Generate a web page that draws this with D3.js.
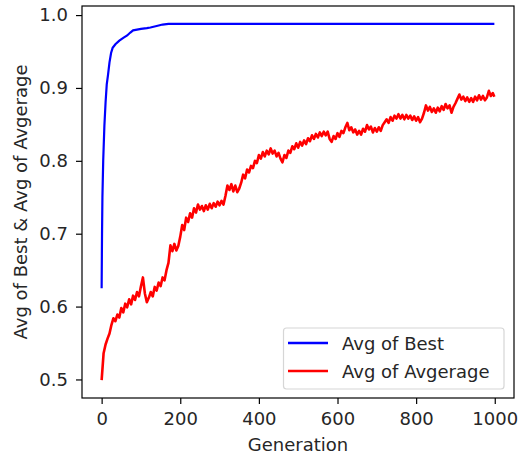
<!DOCTYPE html>
<html>
<head>
<meta charset="utf-8">
<script src="https://cdn.jsdelivr.net/npm/d3@7"></script>
<style>
body { margin: 0; background: #fff; }
text { font-family: "DejaVu Sans", sans-serif; fill: #262626; }
</style>
</head>
<body>
<svg id="chart" width="523" height="462"></svg>
<script>
// avg of best - sampled where it moves, flat afterwards
var bestGen = [0, 1, 2, 4, 7, 10, 13, 16, 20, 24, 28, 35, 45, 56, 65, 73, 80, 90, 100, 115, 124, 140, 155, 170, 200, 999]
var bestVal = [0.625, 0.70, 0.75, 0.80, 0.848, 0.88, 0.905, 0.917, 0.935, 0.948, 0.955, 0.960, 0.965, 0.969, 0.972, 0.976, 0.979, 0.980, 0.981, 0.982, 0.983, 0.985, 0.987, 0.9878, 0.988, 0.988]

// avg of average, every 5 generations (last one is 999)
var avgVal = [
	0.499, 0.536, 0.548, 0.556, 0.563, 0.575, 0.584, 0.580, 0.589, 0.585,
	0.598, 0.592, 0.604, 0.599, 0.610, 0.603, 0.615, 0.609, 0.620, 0.614,
	0.628, 0.640, 0.618, 0.606, 0.612, 0.620, 0.614, 0.627, 0.622, 0.633,
	0.628, 0.640, 0.636, 0.650, 0.660, 0.684, 0.676, 0.686, 0.677, 0.683,
	0.696, 0.712, 0.705, 0.722, 0.716, 0.728, 0.722, 0.735, 0.729, 0.740,
	0.733, 0.738, 0.731, 0.739, 0.733, 0.741, 0.735, 0.742, 0.737, 0.744,
	0.739, 0.745, 0.740, 0.752, 0.766, 0.760, 0.768, 0.758, 0.766, 0.757,
	0.762, 0.770, 0.781, 0.776, 0.788, 0.784, 0.793, 0.790, 0.800, 0.797,
	0.808, 0.803, 0.812, 0.806, 0.814, 0.809, 0.817, 0.810, 0.814, 0.806,
	0.811, 0.803, 0.798, 0.808, 0.804, 0.814, 0.811, 0.820, 0.816, 0.824,
	0.818, 0.826, 0.821, 0.828, 0.823, 0.831, 0.827, 0.835, 0.830, 0.837,
	0.832, 0.839, 0.834, 0.840, 0.835, 0.840, 0.830, 0.826, 0.834, 0.830,
	0.838, 0.833, 0.841, 0.838, 0.846, 0.852, 0.842, 0.846, 0.839, 0.843,
	0.836, 0.841, 0.836, 0.844, 0.840, 0.849, 0.843, 0.847, 0.839, 0.845,
	0.840, 0.846, 0.841, 0.849, 0.853, 0.857, 0.852, 0.860, 0.855, 0.862,
	0.858, 0.864, 0.858, 0.863, 0.857, 0.863, 0.858, 0.862, 0.856, 0.861,
	0.855, 0.860, 0.853, 0.858, 0.866, 0.876, 0.869, 0.874, 0.867, 0.872,
	0.866, 0.873, 0.868, 0.875, 0.870, 0.878, 0.872, 0.876, 0.866, 0.874,
	0.879, 0.885, 0.891, 0.884, 0.888, 0.882, 0.887, 0.881, 0.886, 0.881,
	0.888, 0.883, 0.890, 0.884, 0.889, 0.883, 0.887, 0.896, 0.889, 0.893,
	0.888
]
var avgGen = avgVal.map(function(d, i) { return Math.min(i * 5, 999); })

var xTicks = [0, 200, 400, 600, 800, 1000]
var yTicks = [0.5, 0.6, 0.7, 0.8, 0.9, 1.0]
var labels = ["Avg of Best", "Avg of Avgerage"]
var colors = ["#0000ff", "#ff0000"]

// note: "top" is taken by window.top, so plot box gets its own names
var svg = d3.select("#chart"),
	pl = 82, pr = 514, pt = 6, pb = 398,
	fs = 18

// matplotlib style 5% margins
var xmin = 0, xmax = 999
var ymin = d3.min(avgVal.concat(bestVal)), ymax = d3.max(avgVal.concat(bestVal))
var xm = (xmax - xmin) * 0.05, ym = (ymax - ymin) * 0.05

var x = d3.scaleLinear().domain([xmin - xm, xmax + xm]).range([pl, pr])
var y = d3.scaleLinear().domain([ymin - ym, ymax + ym]).range([pb, pt])

svg.append("clipPath").attr("id", "clip")
	.append("rect").attr("x", pl).attr("y", pt).attr("width", pr - pl).attr("height", pb - pt)

var line = d3.line()
	.x(function(d) { return x(d[0]); })
	.y(function(d) { return y(d[1]); })

var plot = svg.append("g").attr("clip-path", "url(#clip)")
plot.append("path")
	.datum(bestGen.map(function(g, i) { return [g, bestVal[i]]; }))
	.attr("d", line)
	.attr("fill", "none").attr("stroke", colors[0]).attr("stroke-width", 2.2)
plot.append("path")
	.datum(avgGen.map(function(g, i) { return [g, avgVal[i]]; }))
	.attr("d", line)
	.attr("fill", "none").attr("stroke", colors[1]).attr("stroke-width", 2.6)
	.attr("stroke-linejoin", "round")

// axes
var xAxis = svg.append("g").attr("transform", "translate(0," + pb + ")")
	.call(d3.axisBottom(x).tickValues(xTicks).tickSize(6).tickPadding(8).tickFormat(d3.format("d")))
var yAxis = svg.append("g").attr("transform", "translate(" + pl + ",0)")
	.call(d3.axisLeft(y).tickValues(yTicks).tickSize(6).tickPadding(8).tickFormat(d3.format(".1f")))

;[xAxis, yAxis].forEach(function(a) {
	a.select(".domain").remove()
	a.selectAll(".tick line").attr("stroke", "#000").attr("stroke-width", 1.2)
	a.selectAll(".tick text").attr("font-size", fs).attr("font-family", "DejaVu Sans").style("fill", "#262626")
})

svg.append("rect")
	.attr("x", pl).attr("y", pt).attr("width", pr - pl).attr("height", pb - pt)
	.attr("fill", "none").attr("stroke", "#000").attr("stroke-width", 1.2)

svg.append("text")
	.attr("x", (pl + pr) / 2).attr("y", 451)
	.attr("text-anchor", "middle").attr("font-size", fs)
	.text("Generation")

svg.append("text")
	.attr("transform", "translate(26.5," + (pt + pb) / 2 + ") rotate(-90)")
	.attr("text-anchor", "middle").attr("font-size", fs)
	.text("Avg of Best & Avg of Avgerage")

// legend
var lg = svg.append("g")
lg.append("rect")
	.attr("x", 283.5).attr("y", 328).attr("width", 220.5).attr("height", 61).attr("rx", 3)
	.attr("fill", "#fff").attr("fill-opacity", 0.8).attr("stroke", "#d6d6d6").attr("stroke-width", 1.2)
labels.forEach(function(l, i) {
	var ly = 343 + i * 28
	lg.append("line").attr("x1", 288).attr("x2", 328).attr("y1", ly).attr("y2", ly)
		.attr("stroke", colors[i]).attr("stroke-width", 2.4)
	lg.append("text").attr("x", 342).attr("y", ly + 7).attr("font-size", fs).text(l)
})
</script>
</body>
</html>
